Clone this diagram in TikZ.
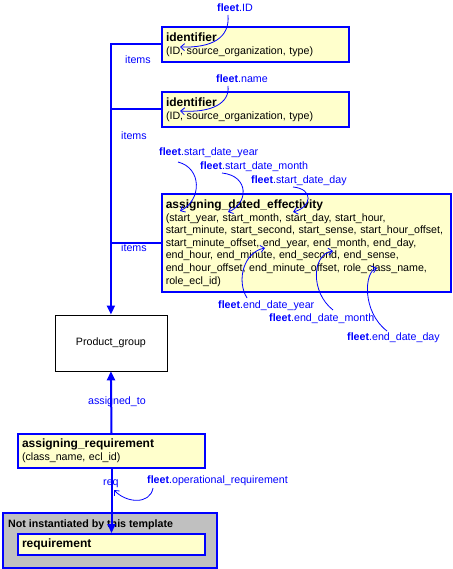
\documentclass[tikz,border=0pt]{standalone}
\usepackage{fontspec}
\setmainfont{Liberation Sans}
\usetikzlibrary{arrows.meta}
\definecolor{entfill}{HTML}{FFFFCC}
\definecolor{tplgray}{HTML}{C0C0C0}
\definecolor{linkblue}{HTML}{0000FF}
\newcommand{\ttl}[1]{{\fontsize{12}{12.6}\selectfont\bfseries #1}}
\newcommand{\flt}[1]{{\bfseries fleet}.#1}

\begin{document}
\begin{tikzpicture}[x=1pt,y=-1pt,
    font=\fontsize{10.67}{12.6}\selectfont,
    entity/.style={draw=linkblue, line width=2pt, fill=entfill, anchor=north west,
      align=left, text width=179pt, minimum width=187pt, inner xsep=4pt, inner ysep=0pt},
    lbl/.style={text=linkblue, anchor=base west, inner sep=0pt},
    link/.style={draw=linkblue, line width=2pt},
    head/.style={-{Triangle[length=9pt,width=8pt]}},
    ref/.style={draw=linkblue, line width=0.8pt, -{Straight Barb[length=4pt,width=7pt]}}]

  \useasboundingbox (0,0) rectangle (452,569);

  \node[draw=linkblue, line width=2pt, fill=tplgray, anchor=north west,
    minimum width=214pt, minimum height=55pt] (tpl) at (2,512) {};
  \node[anchor=base west, inner sep=0pt, font=\fontsize{10.67}{12.6}\selectfont\bfseries]
    (tplttl) at (8,527) {Not instantiated by this template};
  \node[draw=black, line width=0.8pt, fill=white, anchor=north west,
    minimum width=112pt, minimum height=56pt] (pg) at (54.5,314.5) {Product\_group};

  \begin{scope}[every node/.style={entity}]
    \node[minimum height=35pt] (id1) at (161,26) {\ttl{identifier}\\(ID, source\_organization, type)};
    \node[minimum height=35pt] (id2) at (161,91) {\ttl{identifier}\\(ID, source\_organization, type)};
    \node[text width=281pt, minimum width=289.5pt, minimum height=98pt] (ade) at (160.5,193)
      {\ttl{assigning\_dated\_effectivity}\\(start\_year, start\_month, start\_day, start\_hour,\\
       start\_minute, start\_second, start\_sense, start\_hour\_offset,\\
       start\_minute\_offset, end\_year, end\_month, end\_day,\\
       end\_hour, end\_minute, end\_second, end\_sense,\\
       end\_hour\_offset, end\_minute\_offset, role\_class\_name,\\role\_ecl\_id)};
    \node[minimum height=34pt] (areq) at (17,433) {\ttl{assigning\_requirement}\\(class\_name, ecl\_id)};
    \node[minimum height=21pt] (req) at (17,533) {\ttl{requirement}};
  \end{scope}

  \begin{scope}[every node/.style={lbl}]
    \node (it1) at (125,64)  {items};
    \node (it2) at (121,140) {items};
    \node (it3) at (121,251) {items};
    \node (asg) at (88,404)  {assigned\_to};
    \node (rq)  at (103,485) {req};
    \node (fid) at (217,12)  {\flt{ID}};
    \node (fnm) at (216,83)  {\flt{name}};
    \node (fsy) at (159,156) {\flt{start\_date\_year}};
    \node (fsm) at (200,170) {\flt{start\_date\_month}};
    \node (fsd) at (251,184) {\flt{start\_date\_day}};
    \node (fey) at (218,308) {\flt{end\_date\_year}};
    \node (fem) at (269,321) {\flt{end\_date\_month}};
    \node (fed) at (347,340) {\flt{end\_date\_day}};
    \node (fop) at (147,483) {\flt{operational\_requirement}};
  \end{scope}

  \coordinate (cid) at (180,47);
  \coordinate (cnm) at (180,111);
  \coordinate (csy) at (180,211);
  \coordinate (csm) at (228,212);
  \coordinate (csd) at (293,212);
  \coordinate (cey) at (265,248);
  \coordinate (cem) at (333,251);
  \coordinate (ced) at (377,268);
  \coordinate (cop) at (114,490);

  \draw[link, head] (id1.west) -| (pg.north);
  \draw[link] (id2.west) -- (id2.west -| pg.north);
  \draw[link] (ade.west) -- (ade.west -| pg.north);
  \draw[link, head] (areq.north) -- (pg.south);
  \draw[link, head] (areq.south) -- (req.north);

  \draw[ref] ([shift={(11,3)}]fid.base west) .. controls (230,38) and (212,48) .. (cid);
  \draw[ref] ([shift={(12,3)}]fnm.base west) .. controls (230,103) and (212,113) .. (cnm);
  \draw[ref] ([shift={(19,6)}]fsy.base west) .. controls (202,168) and (202,200) .. (csy);
  \draw[ref] ([shift={(22,3)}]fsm.base west) .. controls (250,176) and (248,204) .. (csm);
  \draw[ref] ([shift={(42,3)}]fsd.base west) .. controls (314,189) and (312,207) .. (csd);
  \draw[ref] ([shift={(29,-10)}]fey.base west) .. controls (236,280) and (244,252) .. (cey);
  \draw[ref] ([shift={(64,-11)}]fem.base west) .. controls (310,292) and (312,254) .. (cem);
  \draw[ref] ([shift={(40,-9)}]fed.base west) .. controls (362,312) and (364,272) .. (ced);
  \draw[ref] ([shift={(6,5)}]fop.base west) .. controls (150,505) and (126,503) .. (cop);

\end{tikzpicture}
\end{document}
